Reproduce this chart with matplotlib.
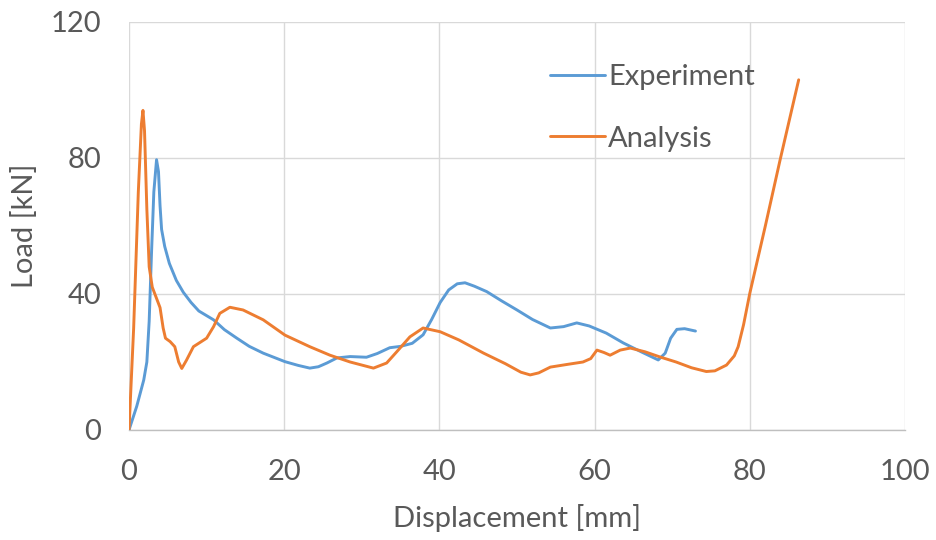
import matplotlib
matplotlib.use("Agg")
import matplotlib.pyplot as plt

# Experiment series (displacement mm, load kN)
exp_x = [0, 1.0, 1.9, 2.3, 2.6, 2.9, 3.2, 3.55, 3.8, 4.0, 4.2, 4.6, 5.2, 6.1, 7, 8, 9,
         10.9, 12.3, 13.9, 15.5, 17.3, 20.1, 21.8, 23.3, 24.4, 25.5, 26.8, 28.5, 30.6,
         32, 33.6, 35, 36.5, 37.9, 39, 40.1, 41.2, 42.3, 43.3, 44.5, 46.1, 48, 50, 52,
         54.3, 56, 57.7, 59.3, 61.5, 63.7, 66, 68.2, 69.1, 69.8, 70.6, 71.6, 73]
exp_y = [0, 7, 14.7, 20, 32, 52, 70, 79.5, 76, 66, 59, 54, 49, 44, 40.5, 37.5, 35,
         32.4, 29.5, 27, 24.6, 22.6, 20.1, 19, 18.2, 18.6, 19.7, 21.2, 21.6, 21.4,
         22.5, 24.2, 24.6, 25.5, 28, 32.5, 37.5, 41.2, 43, 43.3, 42.3, 40.7, 38, 35.3, 32.5,
         30, 30.4, 31.5, 30.6, 28.5, 25.6, 23, 20.6, 22.6, 27, 29.6, 29.8, 29.1]

# Analysis series
ana_x = [0, 0.6, 1.2, 1.6, 1.8, 2.0, 2.3, 2.6, 3.0, 3.5, 4.0, 4.4, 4.7, 5.3, 5.9, 6.4,
         6.8, 7.4, 8.3, 10, 10.9, 11.7, 13, 14.7, 17.3, 20.1, 23.3, 25.9, 28.5, 31.5,
         33.2, 34.5, 36.2, 37.9, 40.1, 42.5, 45.7, 48.5, 50.5, 51.7, 52.8, 54.3, 56.5,
         58.5, 59.5, 60.3, 61.2, 62, 63.3, 64.6, 66.5, 68.4, 70.5, 72.5, 74.4, 75.5, 77,
         78, 78.5, 79.2, 80, 82, 83.9, 86.3]
ana_y = [0, 30, 70, 90, 94, 88, 65, 48, 42, 39, 36, 30, 27, 26, 24.5, 20,
         18.1, 20.5, 24.5, 27, 30.4, 34.3, 36.1, 35.3, 32.4, 27.9, 24.5, 22, 20, 18.2,
         19.7, 23, 27.4, 30, 28.9, 26.5, 22.6, 19.5, 17, 16.2, 16.8, 18.5, 19.3,
         20, 21, 23.5, 22.8, 22, 23.5, 24.1, 23, 21.5, 20, 18.3, 17.2, 17.4, 19.1,
         21.8, 24.5, 31, 40.2, 60, 79.4, 103]

x_ticks = [0, 20, 40, 60, 80, 100]
y_ticks = [0, 40, 80, 120]
series_labels = ["Experiment", "Analysis"]
x_label = "Displacement [mm]"
y_label = "Load [kN]"

TEXT = "#595959"
FS = 21
plt.rcParams['font.family'] = ['Lato', 'DejaVu Sans']

fig = plt.figure(figsize=(9.36, 5.4), dpi=100)
ax = fig.add_axes([129/936, 110/540, 776/936, 408/540])

ax.plot(exp_x, exp_y, color="#5B9BD5", lw=2.1, label=series_labels[0],
        solid_joinstyle="round", solid_capstyle="round", zorder=3)
ax.plot(ana_x, ana_y, color="#ED7D31", lw=2.1, label=series_labels[1],
        solid_joinstyle="round", solid_capstyle="round", zorder=3)

ax.set_xlim(0, 100)
ax.set_ylim(0, 120)
ax.set_xticks(x_ticks)
ax.set_yticks(y_ticks)
ax.grid(True, color="#d9d9d9", lw=1.0, zorder=0)
ax.set_axisbelow(True)
for s in ["top", "right", "left"]:
    ax.spines[s].set_visible(False)
ax.spines["bottom"].set_color("#bfbfbf")
ax.spines["bottom"].set_linewidth(1.0)

ax.tick_params(axis="both", length=0, labelsize=FS, labelcolor=TEXT)
ax.tick_params(axis="x", pad=21)
ax.tick_params(axis="y", pad=20)

ax.set_xlabel(x_label, fontsize=FS, color=TEXT)
ax.set_ylabel(y_label, fontsize=FS, color=TEXT)
ax.xaxis.set_label_coords(0.5, (430 - 504) / 408)
ax.yaxis.set_label_coords((38 - 129) / 776, 0.5)

leg = ax.legend(loc="upper left", bbox_to_anchor=((550 - 129) / 776, (430 - 64) / 408),
                frameon=False, fontsize=FS, handlelength=1.9, handletextpad=0.1,
                labelspacing=1.22, borderpad=0, borderaxespad=0)
for t in leg.get_texts():
    t.set_color(TEXT)

fig.savefig("out.png", dpi=100)
